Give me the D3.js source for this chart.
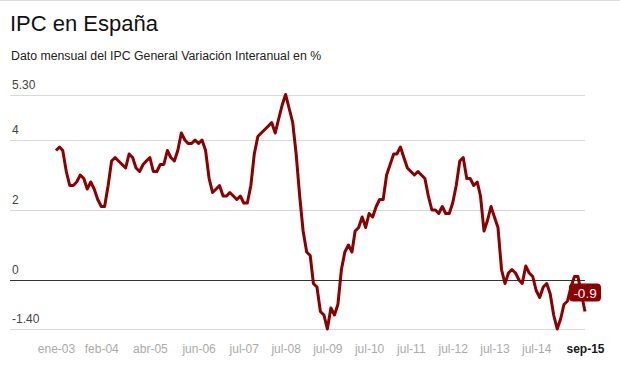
<!DOCTYPE html>
<html>
<head>
<meta charset="utf-8">
<script src="https://cdn.jsdelivr.net/npm/d3@7"></script>
<style>
  body { margin: 0; background: #fff; }
  svg { display: block; font-family: "Liberation Sans", Arial, sans-serif; }
</style>
</head>
<body>
<div id="chart"></div>
<script>
// Monthly IPC (year-on-year %), ene-03 .. sep-15
var startMonth = "2003-01";
var ipc2003 = [3.7, 3.8, 3.7, 3.1, 2.7, 2.7, 2.8, 3.0, 2.9, 2.6, 2.8, 2.6];
var ipc2004 = [2.3, 2.1, 2.1, 2.7, 3.4, 3.5, 3.4, 3.3, 3.2, 3.6, 3.5, 3.2];
var ipc2005 = [3.1, 3.3, 3.4, 3.5, 3.1, 3.1, 3.3, 3.3, 3.7, 3.5, 3.4, 3.7];
var ipc2006 = [4.2, 4.0, 3.9, 3.9, 4.0, 3.9, 4.0, 3.7, 2.9, 2.5, 2.6, 2.7];
var ipc2007 = [2.4, 2.4, 2.5, 2.4, 2.3, 2.4, 2.2, 2.2, 2.7, 3.6, 4.1, 4.2];
var ipc2008 = [4.3, 4.4, 4.5, 4.2, 4.6, 5.0, 5.3, 4.9, 4.5, 3.6, 2.4, 1.4];
var ipc2009 = [0.8, 0.7, -0.1, -0.2, -0.9, -1.0, -1.4, -0.8, -1.0, -0.7, 0.3, 0.8];
var ipc2010 = [1.0, 0.8, 1.4, 1.5, 1.8, 1.5, 1.9, 1.8, 2.1, 2.3, 2.3, 3.0];
var ipc2011 = [3.3, 3.6, 3.6, 3.8, 3.5, 3.2, 3.1, 3.0, 3.1, 3.0, 2.9, 2.4];
var ipc2012 = [2.0, 2.0, 1.9, 2.1, 1.9, 1.9, 2.2, 2.7, 3.4, 3.5, 2.9, 2.9];
var ipc2013 = [2.7, 2.8, 2.4, 1.4, 1.7, 2.1, 1.8, 1.5, 0.3, -0.1, 0.2, 0.3];
var ipc2014 = [0.2, 0.0, -0.1, 0.4, 0.2, 0.1, -0.3, -0.5, -0.2, -0.1, -0.4, -1.0];
var ipc2015 = [-1.4, -1.1, -0.7, -0.6, -0.2, 0.1, 0.1, -0.4, -0.9];

// axis labels
var xTickDates = ["2003-01", "2004-02", "2005-04", "2006-06", "2007-07", "2008-07", "2009-07",
                  "2010-07", "2011-07", "2012-07", "2013-07", "2014-07", "2015-09"];
var xTickLabels = ["ene-03", "feb-04", "abr-05", "jun-06", "jul-07", "jul-08", "jul-09",
                   "jul-10", "jul-11", "jul-12", "jul-13", "jul-14", "sep-15"];
var yTickValues = [-1.4, 0, 2, 4, 5.3];
var yTickLabels = ["-1.40", "0", "2", "4", "5.30"];

var title = "IPC en España";
var subtitle = "Dato mensual del IPC General Variación Interanual en %";

var width = 620, height = 374;
var parseMonth = d3.timeParse("%Y-%m");

// build one series from the yearly arrays
var values = [].concat(ipc2003, ipc2004, ipc2005, ipc2006, ipc2007, ipc2008, ipc2009,
                       ipc2010, ipc2011, ipc2012, ipc2013, ipc2014, ipc2015);
var start = parseMonth(startMonth);
var data = values.map(function (v, i) {
    return { date: d3.timeMonth.offset(start, i), value: v };
});
var last = data[data.length - 1];

var x = d3.scaleTime()
    .domain([start, last.date])
    .range([56, 585]);

var y = d3.scaleLinear()
    .domain([-1.4, 5.3])
    .range([329, 94.5]);

var svg = d3.select("#chart")
    .append("svg")
    .attr("width", width)
    .attr("height", height);

// thin border on top
svg.append("line")
    .attr("x1", 0).attr("x2", width)
    .attr("y1", 0.5).attr("y2", 0.5)
    .attr("stroke", "#dcdcdc");

svg.append("text")
    .attr("x", 10).attr("y", 31)
    .attr("font-size", 22)
    .attr("fill", "#111")
    .text(title);

svg.append("text")
    .attr("x", 11).attr("y", 60)
    .attr("font-size", 12.3)
    .attr("fill", "#222")
    .text(subtitle);

// gridlines + y labels
var grid = svg.append("g");
grid.selectAll("line")
    .data(yTickValues)
    .enter()
    .append("line")
        .attr("x1", 10)
        .attr("x2", x.range()[1])
        .attr("y1", function (d) { return Math.round(y(d)) + 0.5; })
        .attr("y2", function (d) { return Math.round(y(d)) + 0.5; })
        .attr("stroke", function (d) { return d === 0 ? "#333" : "#d9d9d9"; })
        .attr("stroke-width", 1);

grid.selectAll("text")
    .data(yTickValues)
    .enter()
    .append("text")
        .attr("x", 12)
        .attr("y", function (d) { return Math.round(y(d)) - 6; })
        .attr("font-size", 12)
        .attr("fill", "#444")
        .text(function (d, i) { return yTickLabels[i]; });

// x axis labels
var xAxis = d3.axisBottom(x)
    .tickValues(xTickDates.map(parseMonth))
    .tickSize(0)
    .tickPadding(0)
    .tickFormat(function (d, i) { return xTickLabels[i]; });

var xg = svg.append("g")
    .attr("transform", "translate(0,344)")
    .call(xAxis);
xg.select(".domain").remove();
xg.selectAll("text")
    .attr("font-family", "Liberation Sans, Arial, sans-serif")
    .attr("font-size", 12)
    .attr("dy", "0.75em")
    .attr("fill", function (d, i) { return i === xTickLabels.length - 1 ? "#1a1a1a" : "#aaa"; })
    .attr("font-weight", function (d, i) { return i === xTickLabels.length - 1 ? "bold" : "normal"; });

// the line
var line = d3.line()
    .x(function (d) { return x(d.date); })
    .y(function (d) { return y(d.value); });

svg.append("path")
    .datum(data)
    .attr("d", line)
    .attr("fill", "none")
    .attr("stroke", "#8b0000")
    .attr("stroke-width", 3)
    .attr("stroke-linejoin", "round");

// last value label
var lx = x(last.date), ly = y(last.value);
var tag = svg.append("g")
    .attr("transform", "translate(" + lx + "," + (ly - 19) + ")");
tag.append("rect")
    .attr("x", -16).attr("y", -9)
    .attr("width", 32).attr("height", 18)
    .attr("rx", 4)
    .attr("fill", "#8b0000");
tag.append("text")
    .attr("x", 0).attr("y", 5)
    .attr("text-anchor", "middle")
    .attr("font-size", 13.5)
    .attr("fill", "#fff")
    .text(d3.format(".1f")(last.value).replace("−", "-"));
</script>
</body>
</html>
